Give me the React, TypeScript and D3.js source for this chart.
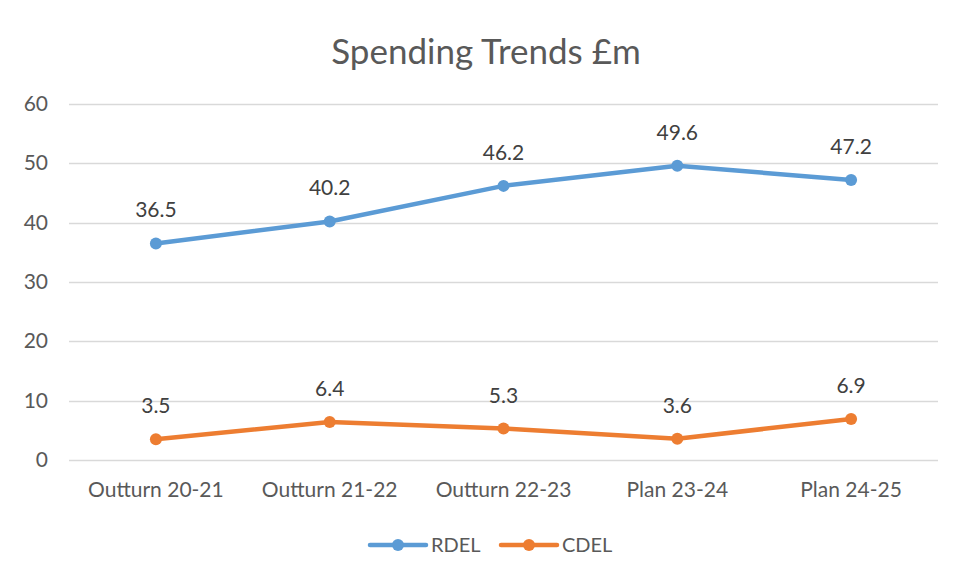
import React, { useEffect, useRef } from 'react';
import * as d3 from 'd3';

const categories = ['Outturn 20-21', 'Outturn 21-22', 'Outturn 22-23', 'Plan 23-24', 'Plan 24-25'];
const rdel = [36.5, 40.2, 46.2, 49.6, 47.2];
const cdel = [3.5, 6.4, 5.3, 3.6, 6.9];
const yTicks = [0, 10, 20, 30, 40, 50, 60];

const series = [
  { name: 'RDEL', values: rdel, color: '#5B9BD5' },
  { name: 'CDEL', values: cdel, color: '#ED7D31' },
];

const App = () => {
  const ref = useRef<SVGSVGElement>(null);

  useEffect(() => {
    const svg = d3.select(ref.current);
    svg.selectAll('*').remove();

    const font = 'Lato, "Open Sans", sans-serif';
    const textColor = '#595959';

    // chart border (runs off the right and bottom edges)
    svg.append('rect')
      .attr('x', 6.5).attr('y', 6.5)
      .attr('width', 960).attr('height', 590)
      .attr('fill', '#fff')
      .attr('stroke', '#D9D9D9');

    const x = d3.scaleBand().domain(categories).range([69, 938]);
    const y = d3.scaleLinear().domain([0, 60]).range([460, 104]);

    svg.append('text')
      .attr('x', 486).attr('y', 64)
      .attr('text-anchor', 'middle')
      .attr('font-family', font).attr('font-size', 35)
      .attr('fill', textColor)
      .text('Spending Trends £m');

    // gridlines
    svg.append('g').selectAll('line')
      .data(yTicks).enter().append('line')
      .attr('x1', 69).attr('x2', 938)
      .attr('y1', d => Math.round(y(d)) + 0.5)
      .attr('y2', d => Math.round(y(d)) + 0.5)
      .attr('stroke', '#D9D9D9').attr('stroke-width', 1.3);

    svg.append('g').selectAll('text')
      .data(yTicks).enter().append('text')
      .attr('x', 48).attr('y', d => y(d) + 7)
      .attr('text-anchor', 'end')
      .attr('font-family', font).attr('font-size', 21)
      .attr('fill', textColor)
      .text(d => d);

    svg.append('g').selectAll('text')
      .data(categories).enter().append('text')
      .attr('x', d => (x(d) as number) + x.bandwidth() / 2)
      .attr('y', 497)
      .attr('text-anchor', 'middle')
      .attr('font-family', font).attr('font-size', 21)
      .attr('fill', textColor)
      .text(d => d);

    const cx = (i: number) => (x(categories[i]) as number) + x.bandwidth() / 2;
    const line = d3.line<number>().x((_, i) => cx(i)).y(d => y(d));

    series.forEach(s => {
      const g = svg.append('g');
      g.append('path')
        .attr('d', line(s.values))
        .attr('fill', 'none')
        .attr('stroke', s.color)
        .attr('stroke-width', 4.5)
        .attr('stroke-linejoin', 'round')
        .attr('stroke-linecap', 'round');
      g.selectAll('circle')
        .data(s.values).enter().append('circle')
        .attr('cx', (_, i) => cx(i)).attr('cy', d => y(d))
        .attr('r', 6)
        .attr('fill', s.color);
      g.selectAll('text')
        .data(s.values).enter().append('text')
        .attr('x', (_, i) => cx(i)).attr('y', d => y(d) - 26)
        .attr('text-anchor', 'middle')
        .attr('font-family', font).attr('font-size', 21)
        .attr('fill', '#404040')
        .text(d => d.toFixed(1));
    });

    // legend
    const legendX = [370, 501];
    series.forEach((s, i) => {
      const g = svg.append('g').attr('transform', `translate(${legendX[i]},545)`);
      g.append('line')
        .attr('x1', 0).attr('x2', 56)
        .attr('stroke', s.color).attr('stroke-width', 4.5)
        .attr('stroke-linecap', 'round');
      g.append('circle').attr('cx', 28).attr('r', 6).attr('fill', s.color);
      g.append('text')
        .attr('x', 61).attr('y', 7)
        .attr('font-family', font).attr('font-size', 20)
        .attr('fill', textColor)
        .text(s.name);
    });
  }, []);

  return <svg ref={ref} width={955} height={583} style={{ display: 'block', margin: -8 }} />;
};

export default App;
